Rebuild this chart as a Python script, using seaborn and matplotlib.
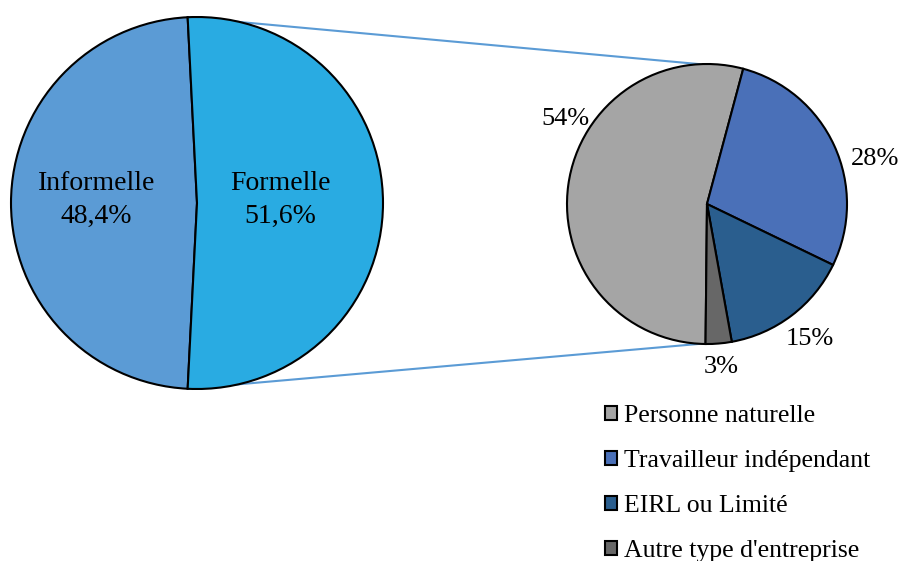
import numpy as np
import matplotlib
matplotlib.use('Agg')
import matplotlib.pyplot as plt
import seaborn as sns

# Data
main_labels = ['Informelle', 'Formelle']
main_values = [48.4, 51.6]
main_colors = ['#5B9BD5', '#29ABE2']

sub_labels = ['Personne naturelle', 'Travailleur indépendant', 'EIRL ou Limité', "Autre type d'entreprise"]
sub_values = [54, 28, 15, 3]
sub_colors = ['#A5A5A5', '#4A70B8', '#2A5E8E', '#676767']

sns.set_theme(style='white')
plt.rcParams['font.family'] = ['Liberation Serif', 'DejaVu Serif']
plt.rcParams['text.color'] = 'black'

W, H = 899, 561
fig = plt.figure(figsize=(W / 100, H / 100), dpi=100)
ax = fig.add_axes([0, 0, 1, 1])

edge = dict(edgecolor='black', linewidth=1.5)

# left pie: Formelle wedge centred on the right side
c1, r1 = (197, 358), 186
form_share = main_values[1] / sum(main_values) * 360
start1 = form_share / 2 + main_values[0] / sum(main_values) * 360
w1, _ = ax.pie(main_values, colors=main_colors, center=c1, radius=r1,
               startangle=start1, counterclock=False, wedgeprops=edge)

main_dist = [0.54, 0.45]
for i, w in enumerate(w1):
    a = np.deg2rad((w.theta1 + w.theta2) / 2)
    txt = f'{main_labels[i]}\n{main_values[i]:.1f}%'.replace('.', ',')
    ax.text(c1[0] + main_dist[i] * r1 * np.cos(a), c1[1] + main_dist[i] * r1 * np.sin(a) + 3,
            txt, fontsize=20, ha='center', va='center', multialignment='center',
            linespacing=1.4)

# right pie
c2, r2 = (707, 357), 140
start2 = 360 - 90.6
w2, _ = ax.pie(sub_values, colors=sub_colors, center=c2, radius=r2,
               startangle=start2, counterclock=False, wedgeprops=edge)

# percentage labels around the right pie
label_angle = {0: 149, 1: 15}
label_dist = [1.18, 1.24, 1.21, 1.17]
for i, w in enumerate(w2):
    ang = label_angle.get(i, (w.theta1 + w.theta2) / 2)
    a = np.deg2rad(ang)
    ax.text(c2[0] + label_dist[i] * r2 * np.cos(a), c2[1] + label_dist[i] * r2 * np.sin(a),
            f'{sub_values[i]}%', fontsize=19, ha='center', va='center')

# connector lines between the Formelle edges and the right pie
edge_ang = np.deg2rad(form_share / 2)
for s in (1, -1):
    x1 = c1[0] + r1 * np.cos(edge_ang)
    y1 = c1[1] + s * r1 * np.sin(edge_ang)
    x2 = c2[0] + r2 * np.cos(edge_ang)
    y2 = c2[1] + s * r2 * np.sin(edge_ang)
    ax.plot([x1, x2], [y1, y2], color='#5B9BD5', linewidth=1.5, zorder=0)

ax.set_xlim(0, W)
ax.set_ylim(0, H)
ax.set_aspect('equal')
ax.axis('off')

ax.legend(w2, sub_labels, loc='upper left', bbox_to_anchor=(605 / W, 1 - 405 / H),
          frameon=False, fontsize=18.5, handlelength=0.45, handleheight=0.45,
          handletextpad=0.3, labelspacing=0.9, borderpad=0, borderaxespad=0)

fig.savefig('out.png', dpi=100)
